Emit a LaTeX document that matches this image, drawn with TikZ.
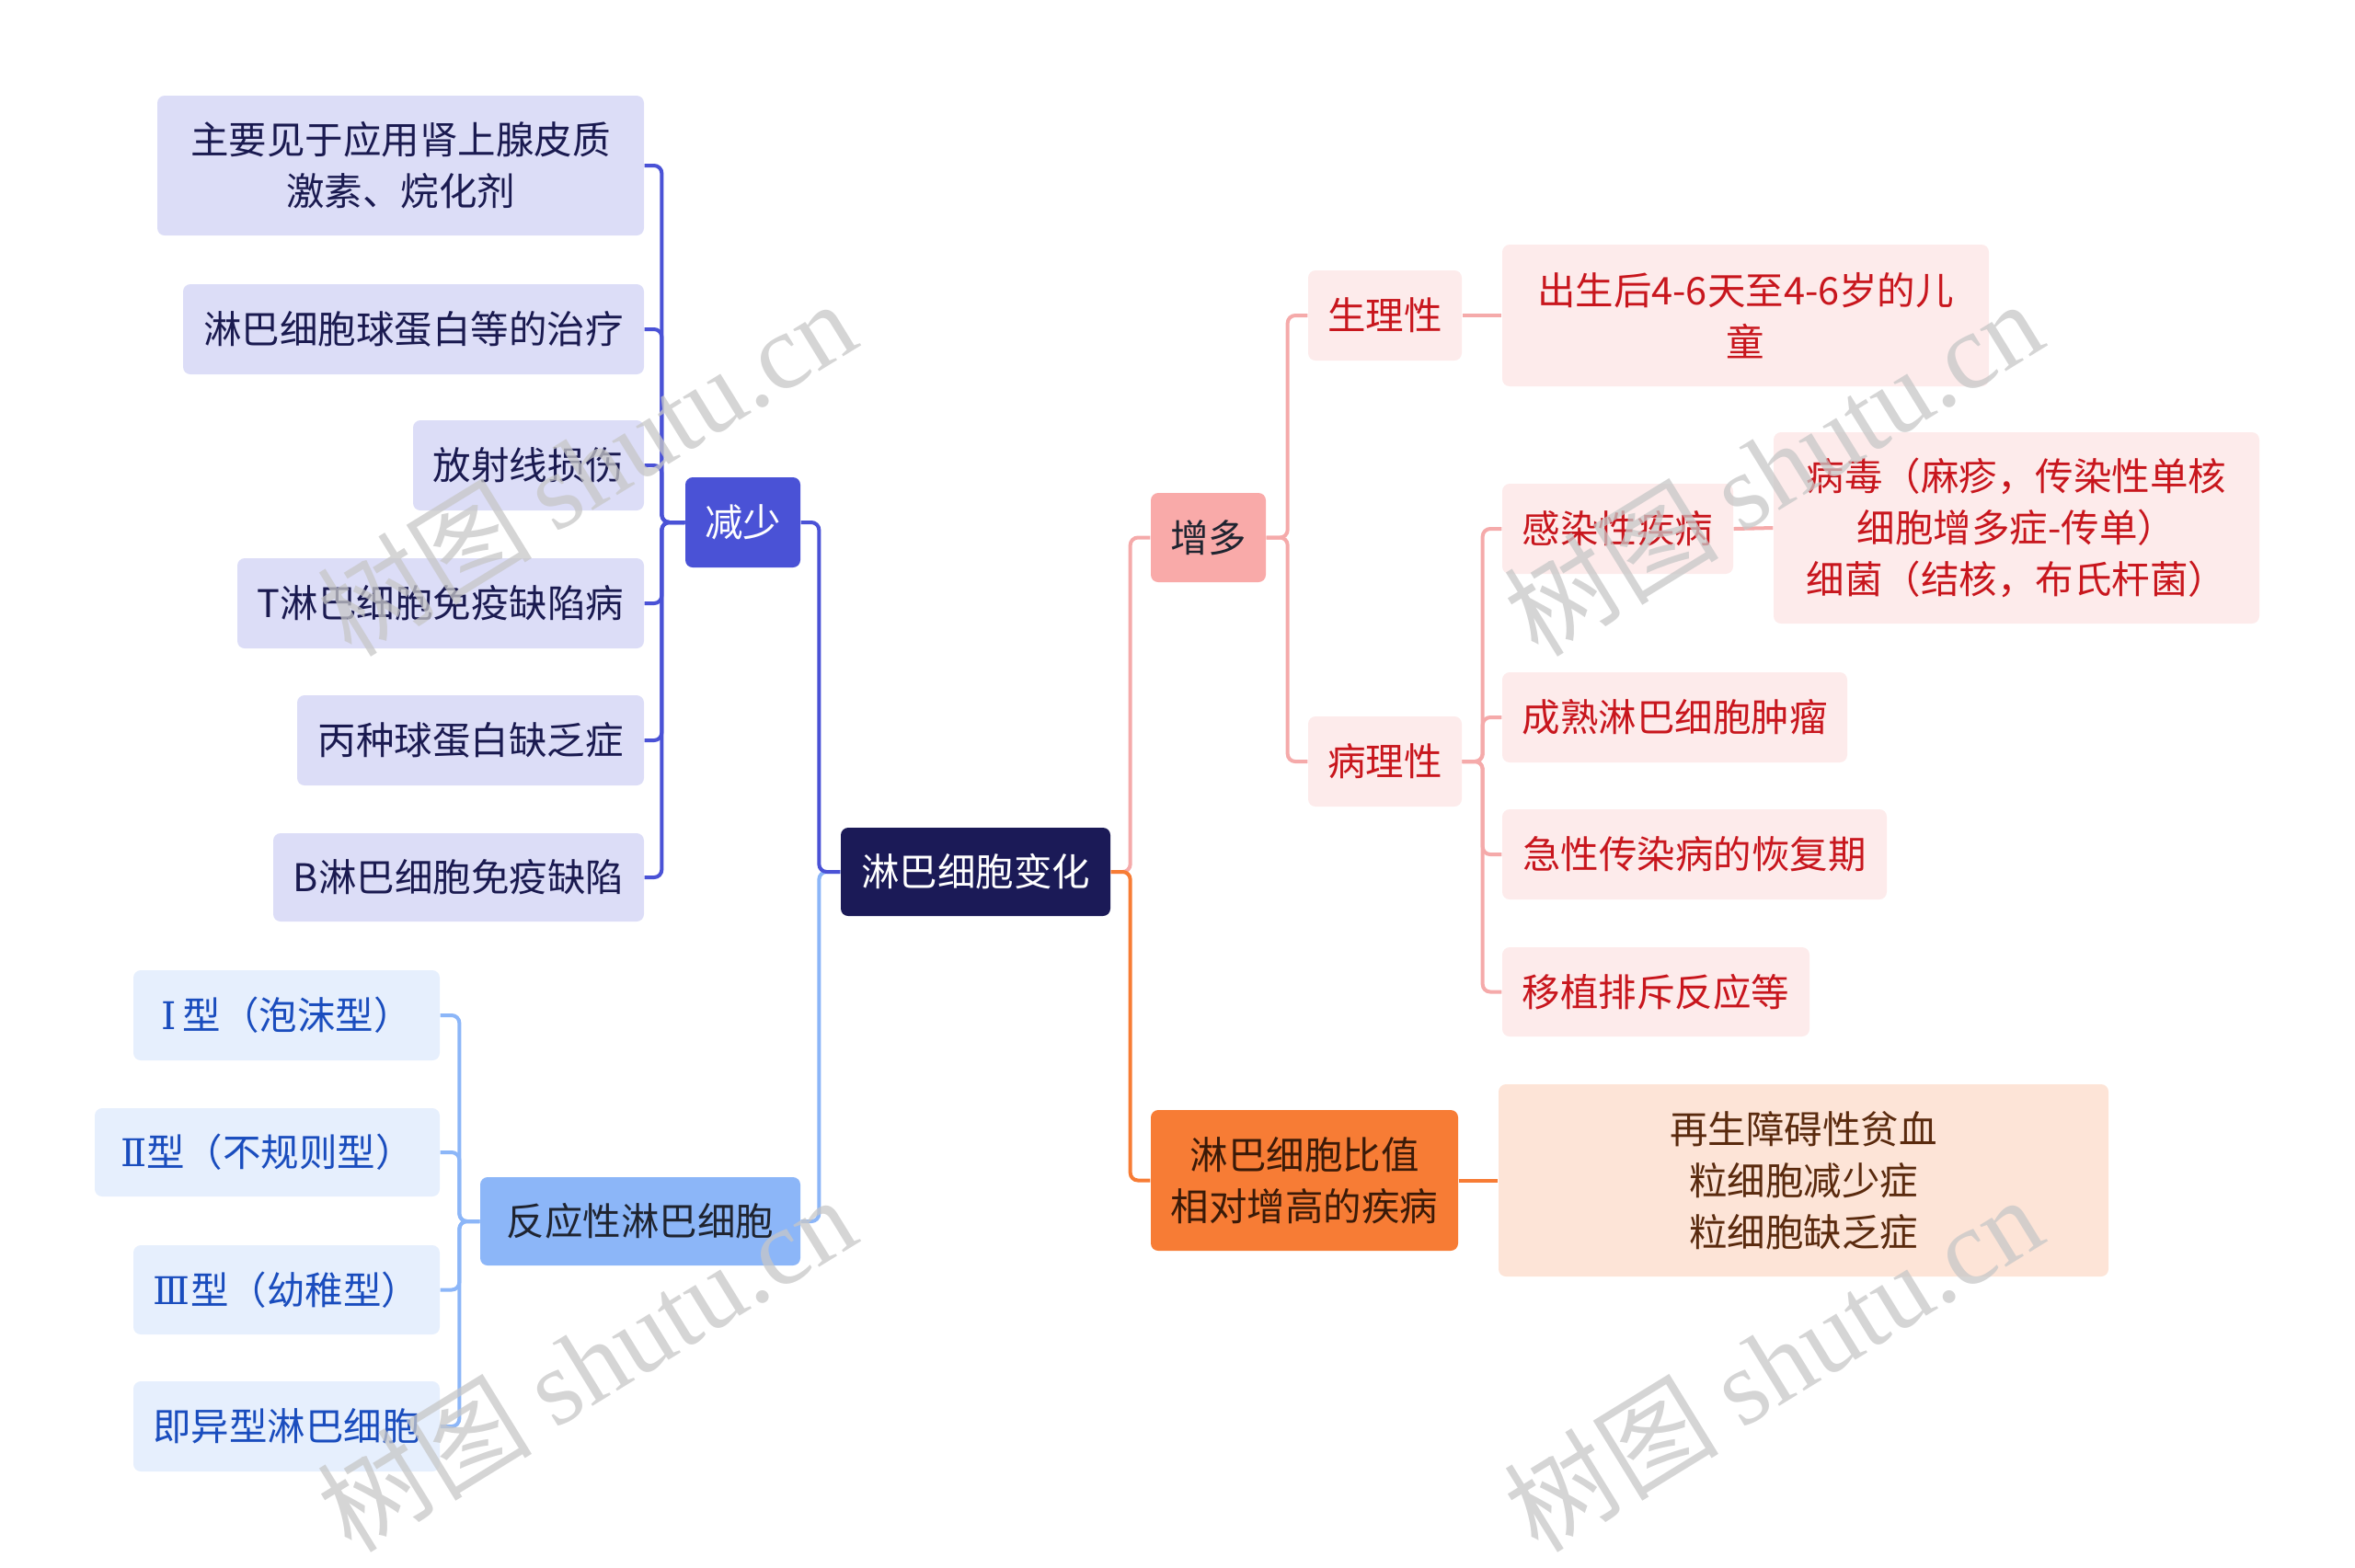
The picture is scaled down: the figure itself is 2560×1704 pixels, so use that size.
\documentclass[tikz,border=0pt]{standalone}
\usepackage{fontspec}
\setmainfont{Noto Sans CJK SC}
\newfontfamily\wmcjk{Noto Sans CJK SC}
\newfontfamily\wmlat{Liberation Serif}
\newfontfamily\romfont{DejaVu Serif}
\usetikzlibrary{calc}
\definecolor{cnavy}{HTML}{1B1A57}
\definecolor{cblue}{HTML}{4A52D6}
\definecolor{clav}{HTML}{DCDDF7}
\definecolor{clavtxt}{HTML}{1A1A50}
\definecolor{clblue}{HTML}{8CB6F8}
\definecolor{cpale}{HTML}{E6EFFD}
\definecolor{cpaletxt}{HTML}{1A4DBE}
\definecolor{cdarktxt}{HTML}{1F2430}
\definecolor{csalmon}{HTML}{F9AAA9}
\definecolor{cpink}{HTML}{FDEBEB}
\definecolor{cred}{HTML}{C8161D}
\definecolor{corange}{HTML}{F77C35}
\definecolor{cpeach}{HTML}{FDE4D7}
\definecolor{cbrown}{HTML}{5A2A0E}
\definecolor{cobrtxt}{HTML}{3A1A08}
\definecolor{cpinkline}{HTML}{F5AAAA}
\begin{document}
\begin{tikzpicture}[x=0.3pt,y=-0.3pt,
  box/.style={rounded corners=2.4pt, inner sep=0pt, align=center,
    font=\fontsize{12.45}{16.8}\selectfont},
  sz/.style 2 args={minimum width=#1*0.3pt, minimum height=#2*0.3pt},
  rootbox/.style={box, fill=cnavy, text=white},
  jsbox/.style={box, fill=cblue, text=white},
  lavbox/.style={box, fill=clav, text=clavtxt},
  fybox/.style={box, fill=clblue, text=cdarktxt},
  palebox/.style={box, fill=cpale, text=cpaletxt},
  zdbox/.style={box, fill=csalmon, text=cdarktxt},
  pinkbox/.style={box, fill=cpink, text=cred},
  orbox/.style={box, fill=corange, text=cobrtxt},
  peachbox/.style={box, fill=cpeach, text=cbrown},
  conn/.style={line width=1.2pt, rounded corners=2.5pt},
  wm/.style={text=black!22, text opacity=0.75, inner sep=0pt}
]
\useasboundingbox (0,0) rectangle (2560,1704);

% root
\node[rootbox, sz={293}{96}] (root) at (1060.5,948) {淋巴细胞变化};

% left: decrease
\node[jsbox, sz={125}{98}] (js) at (807.5,568) {减少};
\node[lavbox, sz={529}{152}] (l1) at (435.5,180) {主要见于应用肾上腺皮质\\激素、烷化剂};
\node[lavbox, sz={501}{98}] (l2) at (449.5,358) {淋巴细胞球蛋白等的治疗};
\node[lavbox, sz={251}{98}] (l3) at (574.5,506) {放射线损伤};
\node[lavbox, sz={442}{98}] (l4) at (479,656) {T淋巴细胞免疫缺陷病};
\node[lavbox, sz={377}{98}] (l5) at (511.5,805) {丙种球蛋白缺乏症};
\node[lavbox, sz={403}{96}] (l6) at (498.5,954) {B淋巴细胞免疫缺陷};

% left: reactive
\node[palebox, sz={333}{98}] (b1) at (311.5,1104) {{\romfont Ⅰ}\,型（泡沫型）};
\node[palebox, sz={375}{96}] (b2) at (290.5,1253) {{\romfont Ⅱ}型（不规则型）};
\node[palebox, sz={333}{97}] (b3) at (311.5,1402.5) {{\romfont Ⅲ}型（幼稚型）};
\node[palebox, sz={333}{98}] (b4) at (311.5,1551) {即异型淋巴细胞};
\node[fybox, sz={348}{96}] (fy) at (696,1328) {反应性淋巴细胞};

% right: increase
\node[zdbox, sz={125}{97}] (zd) at (1313.5,584.5) {增多};
\node[pinkbox, sz={167}{98}] (sl) at (1505.5,343) {生理性};
\node[pinkbox, sz={167}{98}] (bl) at (1505.5,828) {病理性};
\node[pinkbox, sz={529}{154}] (cs) at (1897.5,343) {出生后4-6天至4-6岁的儿\\童};
\node[pinkbox, sz={251}{98}] (gr) at (1758.5,575) {感染性疾病};
\node[pinkbox, sz={375}{98}] (cs2) at (1820.5,780) {成熟淋巴细胞肿瘤};
\node[pinkbox, sz={418}{98}] (jx) at (1842,929) {急性传染病的恢复期};
\node[pinkbox, sz={334}{97}] (yz) at (1800,1078.5) {移植排斥反应等};
\node[pinkbox, sz={528}{208}] (bd) at (2192,574) {病毒（麻疹，传染性单核\\细胞增多症-传单）\\细菌（结核，布氏杆菌）};

% right: ratio
\node[orbox, sz={334}{153}] (or) at (1418,1283.5) {淋巴细胞比值\\相对增高的疾病};
\node[peachbox, sz={663}{209}] (pc) at (1960.5,1283.5) {再生障碍性贫血\\粒细胞减少症\\粒细胞缺乏症};

% connectors left
\draw[conn, clblue] (root.west) -- ++(-23,0) |- (fy.east);
\draw[conn, cblue] (root.west) -- ++(-23,0) |- (js.east);
\foreach \n in {l1,l2,l3,l4,l5,l6}
  \draw[conn, cblue] (js.west) -- ++(-25,0) |- (\n.east);
\foreach \n in {b1,b2,b3,b4}
  \draw[conn, clblue] (fy.west) -- ++(-22,0) |- (\n.east);

% connectors right
\draw[conn, cpinkline] (root.east) -- ++(21,0) |- (zd.west);
\draw[conn, corange] (root.east) -- ++(21,0) |- (or.west);
\foreach \n in {sl,bl}
  \draw[conn, cpinkline] (zd.east) -- ++(23,0) |- (\n.west);
\foreach \n in {gr,cs2,jx,yz}
  \draw[conn, cpinkline] (bl.east) -- ++(22,0) |- (\n.west);
\draw[conn, cpinkline] (sl.east) -- (cs.west);
\draw[conn, cpinkline] (gr.east) -- (bd.west);
\draw[conn, corange] (or.east) -- (pc.west);

% watermarks
\foreach \p/\k in {{(637,508)}/1,{(637,1482)}/2,{(1927,508)}/3,{(1927,1482)}/4}
  \node[wm, rotate=31.6] (wm\k) at \p {\fontsize{35}{35}\selectfont\wmcjk 树图\ \wmlat shutu.cn};
\end{tikzpicture}
\end{document}
